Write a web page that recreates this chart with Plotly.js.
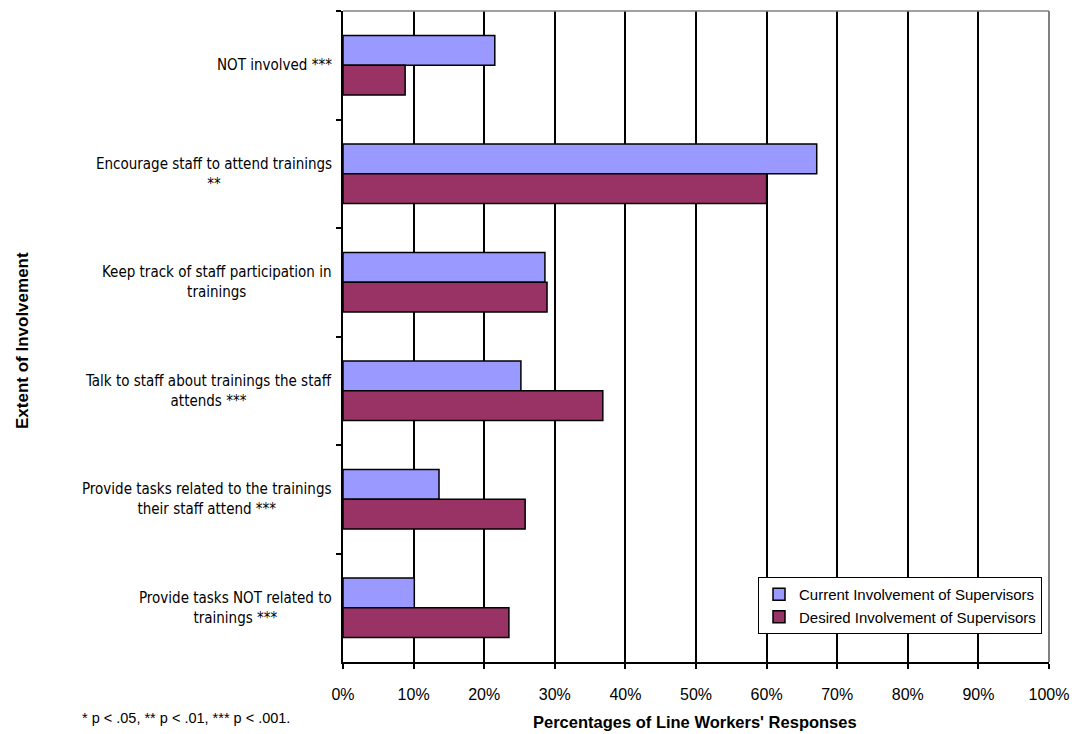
<!DOCTYPE html>
<html>
<head>
<meta charset="utf-8">
<script src="https://cdn.plot.ly/plotly-3.0.1.min.js"></script>
<style>
  html, body { margin: 0; padding: 0; background: #ffffff; overflow: hidden; }
  #chart { width: 1074px; height: 734px; }
</style>
</head>
<body>
<div id="chart"></div>
<script>
// Supervisor involvement categories (top to bottom)
const categories = [
  "NOT involved",
  "Encourage staff to attend trainings",
  "Keep track of staff participation in trainings",
  "Talk to staff about trainings the staff attends",
  "Provide tasks related to the trainings their staff attend",
  "Provide tasks NOT related to trainings"
];

// Wrapped labels with significance markers
const categoryLabels = [
  "NOT involved ***",
  "Encourage staff to attend trainings<br>**",
  "Keep track of staff participation in<br>trainings",
  "Talk to staff about trainings the staff<br>attends ***",
  "Provide tasks related to the trainings<br>their staff attend ***",
  "Provide tasks NOT related to<br>trainings ***"
];

// Percentages of line workers' responses
const currentInvolvement = [21.5, 67.1, 28.6, 25.2, 13.6, 10.1];
const desiredInvolvement = [8.8, 60.0, 28.9, 36.8, 25.8, 23.5];

const seriesNames = ["Current Involvement of Supervisors", "Desired Involvement of Supervisors"];
const tickValues = [0, 10, 20, 30, 40, 50, 60, 70, 80, 90, 100];
const tickLabels = ["0%", "10%", "20%", "30%", "40%", "50%", "60%", "70%", "80%", "90%", "100%"];

const footnote = "* p < .05, ** p < .01, *** p < .001.";
const xTitle = "Percentages of Line Workers' Responses";
const yTitle = "Extent of Involvement";

const ARIAL = "Arial, 'Liberation Sans', sans-serif";
const NARROW = "'Arial Narrow', 'Liberation Sans Narrow', 'DejaVu Sans Condensed', sans-serif";

const barLine = { color: "#000000", width: 1.5 };

const traces = [
  {
    type: "bar",
    orientation: "h",
    name: seriesNames[0],
    y: categories,
    x: currentInvolvement,
    marker: { color: "#9999FF", line: barLine },
    hoverinfo: "x+y"
  },
  {
    type: "bar",
    orientation: "h",
    name: seriesNames[1],
    y: categories,
    x: desiredInvolvement,
    marker: { color: "#993366", line: barLine },
    hoverinfo: "x+y"
  }
];

// Category labels drawn as centred multi-line annotations left of the axis
const labelAnnotations = categories.map((c, i) => ({
  xref: "paper", yref: "y",
  x: 0, y: c,
  xanchor: "right", yanchor: "middle",
  xshift: -9,
  align: "center",
  showarrow: false,
  text: categoryLabels[i],
  font: { family: NARROW, size: 15, color: "#000000" }
}));

const layout = {
  width: 1074,
  height: 734,
  margin: { l: 343, r: 25, t: 11, b: 72, pad: 0 },
  paper_bgcolor: "#ffffff",
  plot_bgcolor: "#ffffff",
  barmode: "group",
  bargap: 0.45,
  bargroupgap: 0,
  showlegend: true,
  legend: {
    x: (1042 - 343) / 706, y: (662 - 577) / 651,
    xanchor: "right", yanchor: "top",
    bgcolor: "#ffffff",
    bordercolor: "#000000",
    borderwidth: 1,
    font: { family: ARIAL, size: 15, color: "#000000" },
    itemwidth: 30,
    tracegroupgap: 0
  },
  xaxis: {
    range: [0, 100],
    tickvals: tickValues,
    ticktext: tickLabels,
    ticks: "outside",
    ticklen: 5,
    tickwidth: 2,
    tickcolor: "#000000",
    ticklabelstandoff: 12,
    tickfont: { family: ARIAL, size: 16, color: "#000000" },
    showgrid: true,
    gridcolor: "#000000",
    gridwidth: 2,
    zeroline: false,
    showline: true,
    linecolor: "#000000",
    linewidth: 2,
    automargin: false,
    fixedrange: true
  },
  yaxis: {
    type: "category",
    autorange: "reversed",
    showticklabels: false,
    ticks: "outside",
    tickson: "boundaries",
    ticklen: 5,
    tickwidth: 2,
    tickcolor: "#000000",
    showgrid: false,
    zeroline: false,
    showline: true,
    linecolor: "#000000",
    linewidth: 2,
    automargin: false,
    fixedrange: true
  },
  shapes: [
    // grey frame on the top and right of the plot area
    { type: "line", xref: "paper", yref: "paper", x0: 0, x1: 1, y0: 1, y1: 1,
      line: { color: "#808080", width: 1.5 }, layer: "above" },
    { type: "line", xref: "paper", yref: "paper", x0: 1, x1: 1, y0: 0, y1: 1,
      line: { color: "#808080", width: 2 }, layer: "above" }
  ],
  annotations: labelAnnotations.concat([
    {
      xref: "paper", yref: "paper",
      x: (695 - 343) / 706, y: -60 / 651,
      xanchor: "center", yanchor: "middle",
      showarrow: false,
      text: "<b>" + xTitle + "</b>",
      font: { family: ARIAL, size: 16.5, color: "#000000" }
    },
    {
      xref: "paper", yref: "paper",
      x: (22 - 343) / 706, y: (662 - 341) / 651,
      xanchor: "center", yanchor: "middle",
      textangle: -90,
      showarrow: false,
      text: "<b>" + yTitle + "</b>",
      font: { family: ARIAL, size: 17, color: "#000000" }
    },
    {
      xref: "paper", yref: "paper",
      x: (80 - 343) / 706, y: (662 - 718) / 651,
      xanchor: "left", yanchor: "middle",
      showarrow: false,
      text: footnote,
      font: { family: ARIAL, size: 14.5, color: "#000000" }
    }
  ])
};

Plotly.newPlot("chart", traces, layout, { displayModeBar: false, staticPlot: true });
</script>
</body>
</html>
